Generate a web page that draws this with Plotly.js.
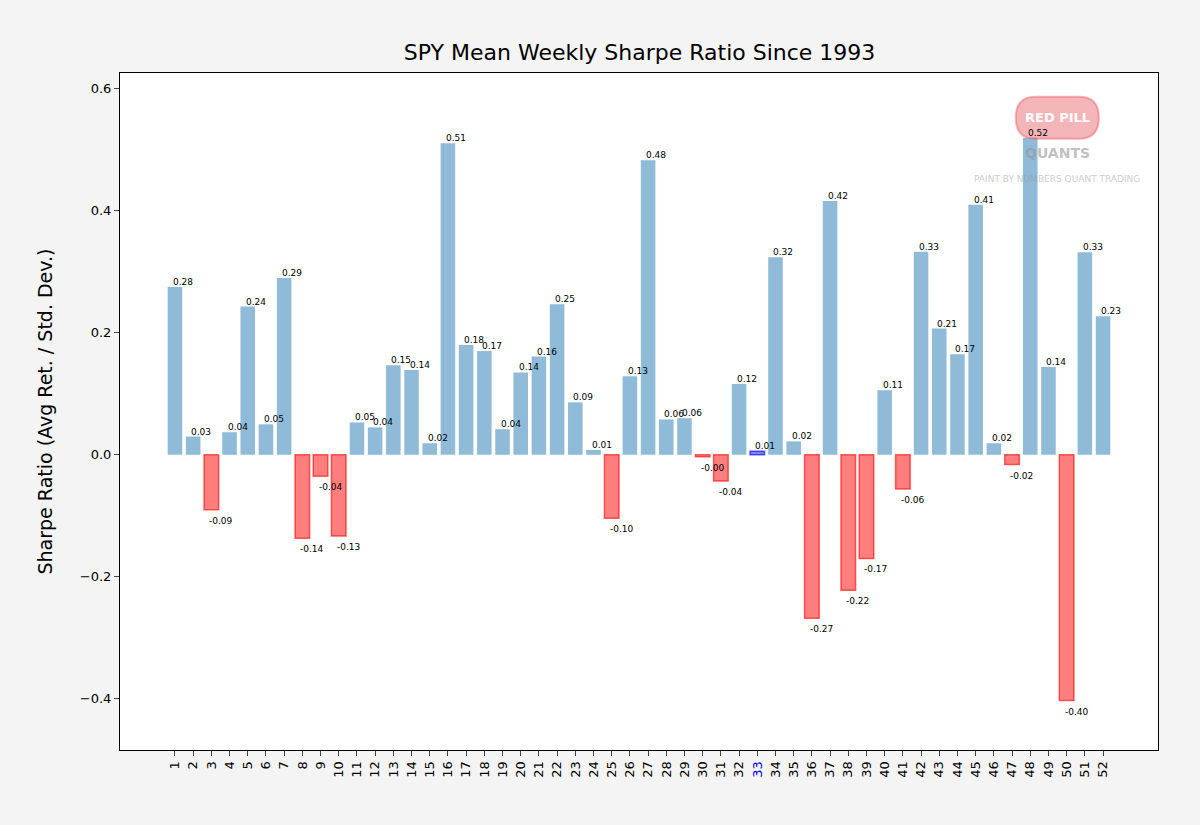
<!DOCTYPE html>
<html>
<head>
<script src="https://cdn.plot.ly/plotly-3.0.1.min.js"></script>
<style>body{margin:0;background:#f4f4f4}</style>
</head>
<body>
<div id="myDiv" style="width:1200px;height:825px"></div>
<script>
var weeks = [];
for (var i = 1; i <= 52; i++) weeks.push(i);
var sharpe = [0.275, 0.03, -0.09, 0.037, 0.243, 0.05, 0.29, -0.137, -0.035, -0.133,
  0.053, 0.045, 0.147, 0.139, 0.019, 0.511, 0.18, 0.17, 0.042, 0.135,
  0.161, 0.247, 0.086, 0.008, -0.104, 0.129, 0.483, 0.058, 0.06, -0.003,
  -0.043, 0.116, 0.006, 0.324, 0.022, -0.268, 0.416, -0.222, -0.17, 0.106,
  -0.056, 0.333, 0.207, 0.165, 0.41, 0.019, -0.016, 0.52, 0.144, -0.403,
  0.332, 0.227];
var currentWeek = 33;

var fills = [], edges = [], edgeW = [];
sharpe.forEach(function (v, i) {
  if (weeks[i] === currentWeek) { fills.push('rgba(0,0,255,0.5)'); edges.push('rgba(0,0,255,0.6)'); edgeW.push(1.5); }
  else if (v < 0) { fills.push('rgba(255,0,0,0.5)'); edges.push('rgba(255,0,0,0.6)'); edgeW.push(1.5); }
  else { fills.push('rgba(31,119,180,0.5)'); edges.push('rgba(0,0,0,0)'); edgeW.push(0); }
});

var ticktext = weeks.map(function (w) {
  return w === currentWeek ? '<span style="color:blue">' + w + '</span>' : String(w);
});

var annotations = sharpe.map(function (v, i) {
  return {
    x: weeks[i], y: v, xref: 'x', yref: 'y',
    text: v.toFixed(2), showarrow: false,
    xanchor: 'left', xshift: -4,
    yanchor: v >= 0 ? 'bottom' : 'top', yshift: v >= 0 ? -2 : -4,
    font: {family: 'DejaVu Sans', size: 9, color: 'black'}
  };
});

annotations.push(
  {xref: 'paper', yref: 'paper', x: 0.903, y: 0.934, xanchor: 'center', yanchor: 'middle', text: '<b>RED PILL</b>', showarrow: false,
   font: {family: 'DejaVu Sans', size: 13, color: 'white'}},
  {xref: 'paper', yref: 'paper', x: 0.903, y: 0.882, xanchor: 'center', yanchor: 'middle', text: '<b>QUANTS</b>', showarrow: false,
   font: {family: 'DejaVu Sans', size: 14, color: 'rgba(150,150,150,0.6)'}},
  {xref: 'paper', yref: 'paper', x: 0.903, y: 0.843, xanchor: 'center', yanchor: 'middle', text: 'PAINT BY NUMBERS QUANT TRADING', showarrow: false,
   font: {family: 'DejaVu Sans', size: 9, color: 'rgba(150,150,150,0.5)'}}
);

var data = [{
  x: weeks, y: sharpe, type: 'bar', width: 0.8,
  marker: {color: fills, line: {color: edges, width: edgeW}},
  hoverinfo: 'x+y'
}];

var layout = {
  title: {text: 'SPY Mean Weekly Sharpe Ratio Since 1993', font: {family: 'DejaVu Sans', size: 22, color: 'black'}, x: 0.533, y: 0.937, yanchor: 'middle'},
  paper_bgcolor: '#f4f4f4',
  plot_bgcolor: 'white',
  margin: {l: 120, r: 42, t: 73, b: 75},
  showlegend: false,
  xaxis: {
    range: [-2.02, 55.02], tickvals: weeks, ticktext: ticktext, tickangle: -90,
    ticks: 'outside', ticklen: 5, showgrid: false, zeroline: false,
    showline: true, mirror: true, linecolor: 'black',
    tickfont: {family: 'DejaVu Sans', size: 13, color: 'black'}
  },
  yaxis: {
    range: [-0.484, 0.626], tickvals: [-0.4, -0.2, 0, 0.2, 0.4, 0.6],
    ticktext: ['\u22120.4', '\u22120.2', '0.0', '0.2', '0.4', '0.6'],
    ticks: 'outside', ticklen: 5, showgrid: false, zeroline: false,
    showline: true, mirror: true, linecolor: 'black',
    tickfont: {family: 'DejaVu Sans', size: 13, color: 'black'},
    title: {text: 'Sharpe Ratio (Avg Ret. / Std. Dev.)', standoff: 22, font: {family: 'DejaVu Sans', size: 19, color: 'black'}}
  },
  shapes: [{
    type: 'path', xref: 'paper', yref: 'paper',
    path: 'M 0.882 0.965 L 0.924 0.965 Q 0.943 0.965 0.943 0.934 Q 0.943 0.903 0.924 0.903 L 0.882 0.903 Q 0.863 0.903 0.863 0.934 Q 0.863 0.965 0.882 0.965 Z',
    fillcolor: 'rgba(230,90,100,0.45)', line: {color: 'rgba(230,90,100,0.45)', width: 2}
  }],
  annotations: annotations
};

Plotly.newPlot('myDiv', data, layout, {displayModeBar: false});
</script>
</body>
</html>
